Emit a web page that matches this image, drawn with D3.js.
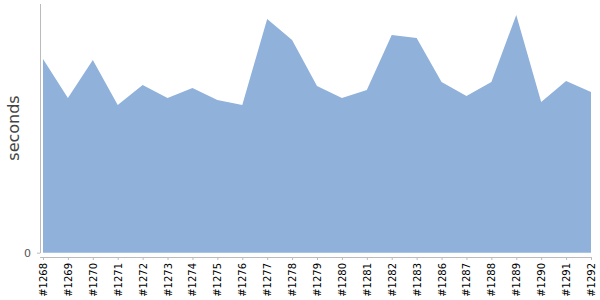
<!DOCTYPE html>
<html>
<head>
<meta charset="utf-8">
<script src="https://cdn.jsdelivr.net/npm/d3@7/dist/d3.min.js"></script>
<style>
body { margin: 0; background: #fff; }
text { font-family: "DejaVu Sans", Verdana, sans-serif; }
</style>
</head>
<body>
<div id="chart"></div>
<script>
let builds = ["#1268", "#1269", "#1270", "#1271", "#1272", "#1273", "#1274", "#1275",
	"#1276", "#1277", "#1278", "#1279", "#1280", "#1281", "#1282", "#1283",
	"#1286", "#1287", "#1288", "#1289", "#1290", "#1291", "#1292"];
let seconds = [194, 155, 193, 148, 168, 155, 165, 153,
	148, 234, 213, 167, 155, 163, 218, 215,
	171, 157, 171, 238, 151, 172, 161];
let yMax = 249;
let yTicks = [0];

let width = 600, height = 300;
let plotLeft = 43, plotRight = 591, plotTop = 4, plotBottom = 252.7;

var svg = d3.select("#chart")
	.append("svg")
	.attr("width", width)
	.attr("height", height);

var x = d3.scalePoint()
	.domain(builds)
	.range([plotLeft, plotRight]);

var y = d3.scaleLinear()
	.domain([0, yMax])
	.range([plotBottom, plotTop]);

var area = d3.area()
	.x(function(d, i) { return x(builds[i]); })
	.y0(y(0))
	.y1(function(d) { return y(d); });

svg.append("path")
	.datum(seconds)
	.attr("d", area)
	.style("fill", "#8fb1da");

// y axis
var yAxis = svg.append("g")
	.attr("transform", "translate(40,0)")
	.call(d3.axisLeft(y).tickValues(yTicks).tickSize(3).tickSizeOuter(0).tickPadding(6));
yAxis.select(".domain").attr("d", "M0.5," + plotTop + "V" + (plotBottom + 0.5)).style("stroke", "#bbb");
yAxis.selectAll(".tick line").style("stroke", "#bbb");
yAxis.selectAll(".tick text")
	.style("font-size", "11px")
	.style("fill", "#555");

// x axis
var xAxis = svg.append("g")
	.attr("transform", "translate(0,257)")
	.call(d3.axisBottom(x).tickSize(3).tickSizeOuter(0));
xAxis.select(".domain").attr("d", "M40,0.5H" + (plotRight + 1)).style("stroke", "#bbb");
xAxis.selectAll(".tick line").style("stroke", "#bbb");
xAxis.selectAll(".tick text")
	.attr("transform", "rotate(-90)")
	.attr("x", -6)
	.attr("y", 0)
	.attr("dy", "0.35em")
	.attr("text-anchor", "end")
	.style("font-size", "10px")
	.style("fill", "#000");

svg.append("text")
	.attr("transform", "rotate(-90 13 128)")
	.attr("x", 13)
	.attr("y", 128)
	.attr("dy", "0.35em")
	.attr("text-anchor", "middle")
	.style("font-size", "16px")
	.style("fill", "#444")
	.text("seconds");
</script>
</body>
</html>
